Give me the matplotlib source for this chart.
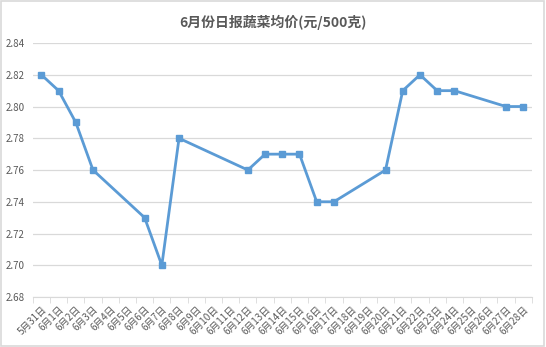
import numpy as np
import matplotlib.pyplot as plt
from matplotlib.patches import Rectangle

plt.rcParams['font.family'] = ['Noto Sans CJK SC', 'DejaVu Sans']

days = ['5月31日'] + ['6月%d日' % d for d in range(1, 29)]
# None = no report that day
prices = [2.82, 2.81, 2.79, 2.76, None, None, 2.73, 2.70, 2.78, None,
          None, None, 2.76, 2.77, 2.77, 2.77, 2.74, 2.74, None, None,
          2.76, 2.81, 2.82, 2.81, 2.81, None, None, 2.80, 2.80]

x = np.arange(len(days))
y = np.array([np.nan if p is None else p for p in prices])
ok = ~np.isnan(y)

fig = plt.figure(figsize=(5.46, 3.47), dpi=100)
fig.patches.append(Rectangle((0.002, 0.003), 0.995, 0.994, transform=fig.transFigure,
                             fill=False, edgecolor='#d9d9d9', linewidth=1.2))
ax = fig.add_axes([0.060, 0.144, 0.914, 0.732])

ax.plot(x[ok], y[ok], color='#5b9bd5', linewidth=2, marker='s', markersize=4.5,
        markerfacecolor='#5b9bd5', markeredgecolor='#5b9bd5', zorder=3)

ax.set_xlim(-0.5, len(days) - 0.5)
ax.set_ylim(2.68, 2.84)
ax.set_yticks(np.arange(2.68, 2.8401, 0.02))
ax.set_yticklabels(['%.2f' % v for v in np.arange(2.68, 2.8401, 0.02)])
ax.yaxis.grid(True, color='#d9d9d9', linewidth=0.9)
ax.set_axisbelow(True)

ax.set_xticks(x)
ax.set_xticklabels(days, rotation=45, ha='right', rotation_mode='anchor')
ax.set_xticks(np.arange(-0.5, len(days), 1), minor=True)
ax.tick_params(axis='x', which='major', length=0, pad=5, labelsize=7, colors='#595959')
ax.tick_params(axis='x', which='minor', length=4, color='#d9d9d9')
ax.tick_params(axis='y', length=0, labelsize=7, colors='#595959', pad=6)

for s in ['top', 'right', 'left']:
    ax.spines[s].set_visible(False)
ax.spines['bottom'].set_color('#d9d9d9')

fig.text(0.5, 0.935, '6月份日报蔬菜均价(元/500克)', ha='center', va='center',
         fontsize=10, fontweight='bold', color='#595959')

fig.savefig('out.png', dpi=100)
